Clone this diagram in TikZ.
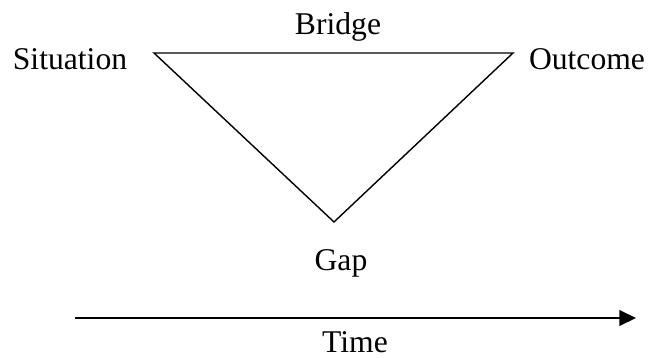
\documentclass[tikz,border=0pt]{standalone}
\usepackage{fontspec}
\setmainfont{Liberation Serif}
\usepackage{tikz}
\usetikzlibrary{arrows.meta,positioning}

\begin{document}
\begin{tikzpicture}[line width=0.8pt, every node/.style={font=\fontsize{18}{22}\selectfont, inner sep=0pt}]
        \useasboundingbox (0,0) rectangle (13.02,7.16);

        % Corners of the triangle
        \coordinate (sit) at (3.08,6.10);
        \coordinate (out) at (10.26,6.10);
        \coordinate (gap) at (6.68,2.72);
        \draw (sit) -- (out) -- (gap) -- cycle;

        % Labels
        \node[anchor=base] (situation) at (1.40,5.76) {Situation};
        \node[anchor=base] (bridge) at (6.76,6.46) {Bridge};
        \node[anchor=base] (outcome) at (11.74,5.76) {Outcome};
        \node[anchor=base] (gaplabel) at (6.82,1.74) {Gap};

        % Time axis
        \coordinate (tstart) at (1.50,0.80);
        \coordinate (tend) at (12.72,0.80);
        \draw[-{Triangle[length=9.5pt, width=9pt]}] (tstart) -- (tend);
        \node[anchor=base] (time) at (7.10,0.12) {Time};
    \end{tikzpicture}
\end{document}
